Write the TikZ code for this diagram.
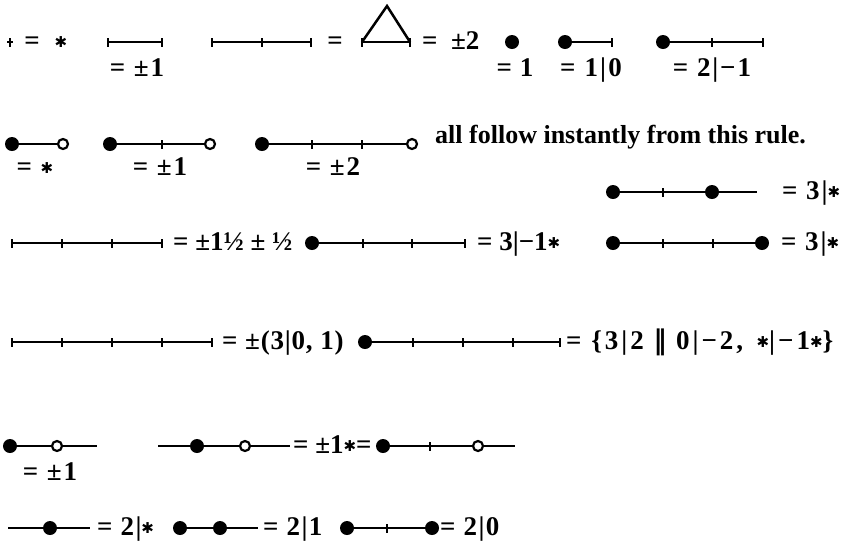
\documentclass[tikz,border=0pt]{standalone}
\usepackage{fontspec}
\setmainfont{Liberation Serif}
\newfontfamily\djv{DejaVu Sans}
\newfontfamily\djs{DejaVu Serif}
\newcommand\nimst{{\djv\fontsize{15}{15}\selectfont\raisebox{0.2ex}{✱}}}
\newcommand\dbar{{\djs ‖}}
\newcommand\ls[2]{{\addfontfeature{LetterSpace=#1}#2}}
\begin{document}
\begin{tikzpicture}[x=1pt,y=-1pt,
  font=\bfseries\fontsize{27}{30}\selectfont,
  ln/.style={line width=2.5pt},
  tk/.style={inner sep=0pt, minimum width=2pt, minimum height=9pt, fill=black, draw=none},
  fd/.style={circle, fill=black, inner sep=0pt, minimum size=14pt},
  od/.style={circle, draw=black, fill=white, line width=2.2pt, inner sep=0pt, minimum size=10pt},
  lb/.style={inner sep=0pt, anchor=base},
  tw/.style={inner sep=0pt, anchor=base west}]
\useasboundingbox (0,0) rectangle (850,558);
% ---------- row 1 ----------
\node[tk] (p0) at (10,42) {};
\draw[line width=1.6pt] ([xshift=-3pt]p0.center) -- ([xshift=3pt]p0.center);
\node[lb] (p0e) at (32,49) {=};
\node[lb] (p0s) at (61,49) {\nimst};
\node[tk] (a1) at (108,42) {};
\node[tk] (a2) at (162,42) {};
\draw[ln] (a1) -- (a2);
\node[lb] (la) at (137,76) {\ls{7}{= ±1}};
\node[tk] (b1) at (212,42) {};
\node[tk] (b2) at (262,42) {};
\node[tk] (b3) at (311,42) {};
\draw[ln] (b1) -- (b2) -- (b3);
\node[lb] (beq) at (335,49) {=};
\coordinate (ap) at (387,6);
\node[tk] (tl) at (362,42) {};
\node[tk] (tr) at (410,42) {};
\draw[ln, line join=miter] (tl.center) -- (ap) -- (tr.center);
\draw[ln] (tl) -- (tr);
\node[tw] (teq) at (422,49) {=\hspace{0.5em}±2};
\node[fd] (c1) at (512,42) {};
\node[lb] (lc) at (515,76) {\ls{5}{= 1}};
\node[fd] (d1) at (565,42) {};
\node[tk] (d2) at (612,42) {};
\draw[ln] (d1) -- (d2);
\node[lb] (ld) at (591,76) {\ls{8}{= 1|0}};
\node[fd] (e1) at (663,42) {};
\node[tk] (e2) at (712,42) {};
\node[tk] (e3) at (763,42) {};
\draw[ln] (e1) -- (e2) -- (e3);
\node[lb] (le) at (712,76) {\ls{7}{= 2|−1}};
% ---------- row 2 ----------
\node[fd] (f1) at (12,144) {};
\node[od] (f2) at (63,144) {};
\draw[ln] (f1) -- (f2);
\node[lb] (lf) at (35,175) {\ls{7}{= }\nimst};
\node[fd] (g1) at (110,144) {};
\node[tk] (g2) at (162,144) {};
\node[od] (g3) at (210,144) {};
\draw[ln] (g1) -- (g2) -- (g3);
\node[lb] (lg) at (160,175) {\ls{7}{= ±1}};
\node[fd] (h1) at (262,144) {};
\node[tk] (h2) at (312,144) {};
\node[tk] (h3) at (362,144) {};
\node[od] (h4) at (412,144) {};
\draw[ln] (h1) -- (h2) -- (h3) -- (h4);
\node[lb] (lh) at (333,175) {\ls{7}{= ±2}};
\node[tw, font=\bfseries\fontsize{26}{30}\selectfont] (rule) at (435,143) {all follow instantly from this rule.};
% ---------- row 2b ----------
\node[fd] (i1) at (613,192) {};
\node[tk] (i2) at (663,192) {};
\node[fd] (i3) at (712,192) {};
\coordinate (i4) at (757,192);
\draw[ln] (i1) -- (i2) -- (i3) -- (i4);
\node[tw] (li) at (782,199) {\ls{7}{= 3|}\nimst};
% ---------- row 3 ----------
\node[tk] (j1) at (12,243) {};
\node[tk] (j2) at (62,243) {};
\node[tk] (j3) at (112,243) {};
\node[tk] (j4) at (162,243) {};
\draw[ln] (j1) -- (j2) -- (j3) -- (j4);
\node[tw] (lj) at (173,250) {= ±1½ ± ½};
\node[fd] (k1) at (312,243) {};
\node[tk] (k2) at (363,243) {};
\node[tk] (k3) at (412,243) {};
\node[tk] (k4) at (465,243) {};
\draw[ln] (k1) -- (k2) -- (k3) -- (k4);
\node[tw] (lk) at (477,250) {= 3|−1\nimst};
\node[fd] (l1) at (613,243) {};
\node[tk] (l2) at (663,243) {};
\node[tk] (l3) at (713,243) {};
\node[fd] (l4) at (762,243) {};
\draw[ln] (l1) -- (l2) -- (l3) -- (l4);
\node[tw] (ll) at (781,250) {\ls{7}{= 3|}\nimst};
% ---------- row 4 ----------
\node[tk] (m1) at (12,342) {};
\node[tk] (m2) at (62,342) {};
\node[tk] (m3) at (112,342) {};
\node[tk] (m4) at (162,342) {};
\node[tk] (m5) at (212,342) {};
\draw[ln] (m1) -- (m2) -- (m3) -- (m4) -- (m5);
\node[tw] (lm) at (222,349) {\ls{3}{= ±(3|0, 1)}};
\node[fd] (n1) at (365,342) {};
\node[tk] (n2) at (413,342) {};
\node[tk] (n3) at (463,342) {};
\node[tk] (n4) at (513,342) {};
\node[tk] (n5) at (560,342) {};
\draw[ln] (n1) -- (n2) -- (n3) -- (n4) -- (n5);
\node[tw] (ln4) at (566,349) {\ls{11}{= \{3|2}\hspace{0.35em}\dbar\hspace{0.35em}\ls{11}{0|−2,}\hspace{0.5em}\nimst\ls{11}{|−1}\nimst\ls{11}{\}}};
% ---------- row 5 ----------
\node[fd] (o1) at (10,446) {};
\node[od] (o2) at (57,446) {};
\coordinate (o3) at (97,446);
\draw[ln] (o1) -- (o2) -- (o3);
\node[lb] (lo) at (50,480) {\ls{7}{= ±1}};
\coordinate (p1s) at (158,446);
\node[fd] (p1) at (197,446) {};
\node[od] (p2) at (245,446) {};
\coordinate (p3) at (290,446);
\draw[ln] (p1s) -- (p1) -- (p2) -- (p3);
\node[tw] (lp) at (293,453) {= ±1\nimst=};
\node[fd] (q1) at (383,446) {};
\node[tk] (q2) at (430,446) {};
\node[od] (q3) at (478,446) {};
\coordinate (q4) at (515,446);
\draw[ln] (q1) -- (q2) -- (q3) -- (q4);
% ---------- row 6 ----------
\coordinate (r0) at (8,528);
\node[fd] (r1) at (50,528) {};
\coordinate (r2) at (90,528);
\draw[ln] (r0) -- (r1) -- (r2);
\node[tw] (lr) at (97,535) {\ls{5}{= 2|}\nimst};
\node[fd] (s1) at (180,528) {};
\node[fd] (s2) at (220,528) {};
\coordinate (s3) at (258,528);
\draw[ln] (s1) -- (s2) -- (s3);
\node[tw] (ls) at (263,535) {\ls{5}{= 2|1}};
\node[fd] (t1) at (347,528) {};
\node[tk] (t2) at (387,528) {};
\node[fd] (t3) at (432,528) {};
\draw[ln] (t1) -- (t2) -- (t3);
\node[tw] (lt) at (440,535) {\ls{5}{= 2|0}};
\end{tikzpicture}
\end{document}
